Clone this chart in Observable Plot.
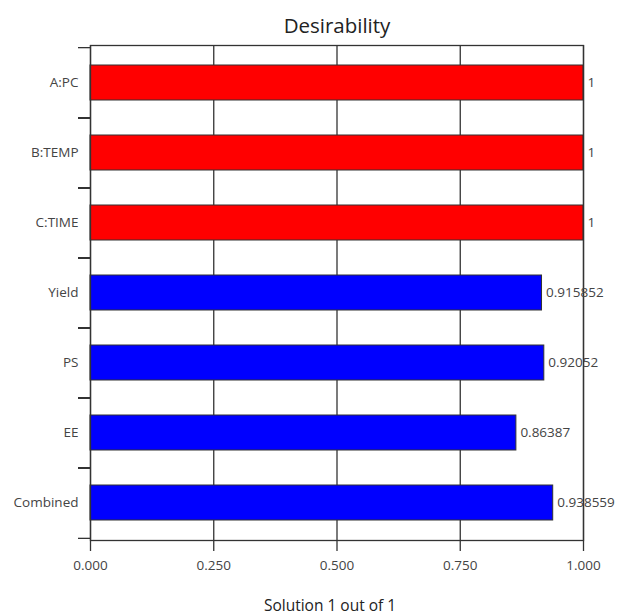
<!DOCTYPE html>
<html>
<head>
<meta charset="utf-8">
<script src="https://cdn.jsdelivr.net/npm/d3@7"></script>
<script src="https://cdn.jsdelivr.net/npm/@observablehq/plot@0.6"></script>
<style>
  html, body { margin: 0; padding: 0; background: white; }
</style>
</head>
<body>
<div id="chart"></div>
<script>
const categories = ["A:PC", "B:TEMP", "C:TIME", "Yield", "PS", "EE", "Combined"];
const values = [1, 1, 1, 0.915852, 0.92052, 0.86387, 0.938559];
const valueLabels = ["1", "1", "1", "0.915852", "0.92052", "0.86387", "0.938559"];
const groups = ["factor", "factor", "factor", "response", "response", "response", "response"];
const xTicks = [0, 0.25, 0.5, 0.75, 1];
const title = "Desirability";
const xTitle = "Solution 1 out of 1";

const data = categories.map((c, i) => ({cat: c, value: values[i], label: valueLabels[i], group: groups[i]}));

const W = 617, H = 616;
const mT = 45, mB = 76, mL = 90, mR = 34;
const step = (H - mT - mB) / (categories.length - 0.5 + 0.5);
const ink = "#333";
const txt = "#444";

const chart = Plot.plot({
  width: W,
  height: H,
  marginTop: mT,
  marginBottom: mB,
  marginLeft: mL,
  marginRight: mR,
  style: {fontFamily: "'Open Sans', sans-serif", color: ink, background: "white", overflow: "visible"},
  x: {domain: [0, 1]},
  y: {domain: categories, paddingInner: 0.5, paddingOuter: 0.25},
  color: {domain: ["factor", "response"], range: ["#ff0000", "#0000ff"]},
  marks: [
    Plot.gridX(xTicks, {stroke: ink, strokeOpacity: 1, strokeWidth: 1.3}),
    Plot.barX(data, {x: "value", y: "cat", fill: "group", stroke: ink, strokeWidth: 1}),
    Plot.frame({stroke: ink, strokeWidth: 1.3}),
    Plot.axisY({tickSize: 12, dy: -step / 2, tickFormat: () => "", label: null, stroke: ink, strokeWidth: 1.3}),
    Plot.axisY({tickSize: 12, dy: step / 2, tickFormat: () => "", label: null, stroke: ink, strokeWidth: 1.3}),
    Plot.axisY({tickSize: 0, tickPadding: 12, fontSize: 13.5, label: null, fill: txt}),
    Plot.axisX(xTicks, {tickSize: 11, tickPadding: 9, tickFormat: d3.format(".3f"), fontSize: 13.5, label: null, stroke: ink, strokeWidth: 1.3, fill: txt}),
    Plot.text(data, {x: "value", y: "cat", text: "label", textAnchor: "start", dx: 4, fontSize: 13.5, fill: txt}),
    Plot.text([title], {frameAnchor: "top", dy: -27, fontSize: 20.5, fill: "#222"}),
    Plot.text([xTitle], {frameAnchor: "bottom", dx: -7, dy: 70, fontSize: 15.5, fill: "#222"})
  ]
});
document.getElementById("chart").appendChild(chart);
</script>
</body>
</html>
